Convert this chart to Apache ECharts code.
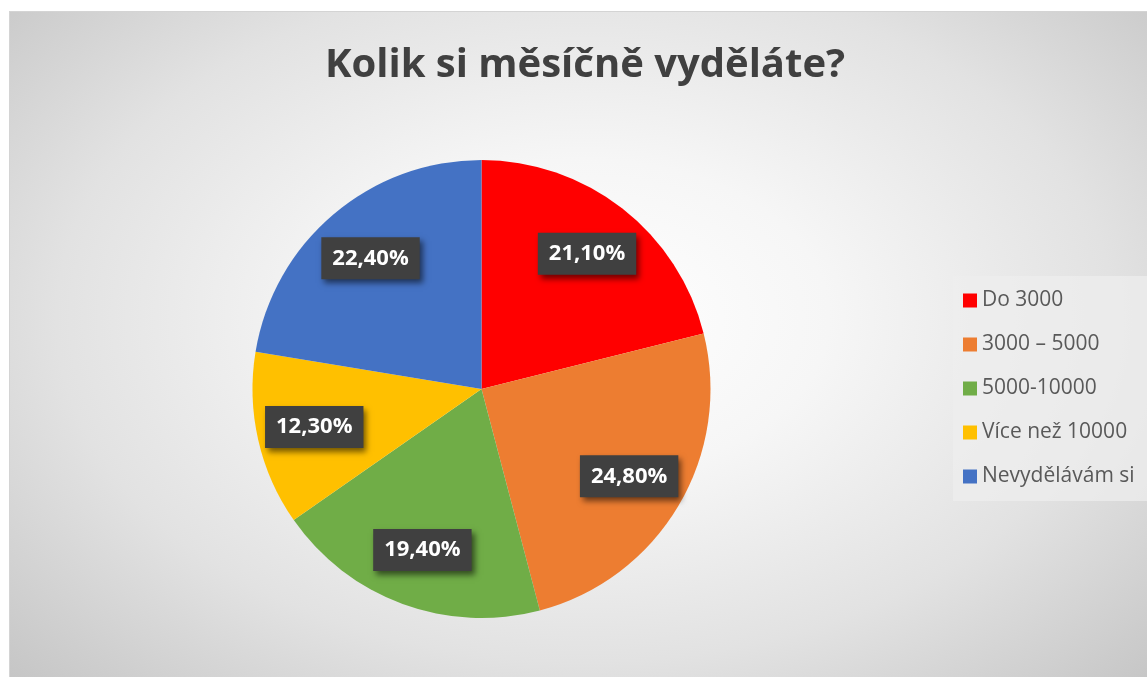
<!DOCTYPE html>
<html>
<head>
<meta charset="utf-8">
<script src="https://cdn.jsdelivr.net/npm/echarts@6/dist/echarts.min.js"></script>
<style>
    html, body { margin: 0; padding: 0; background: #fff; overflow: hidden; }
    #chart {
        position: absolute; left: 9px; top: 11px; width: 1150px; height: 680px;
        border-top: 1px solid #d4d4d4; border-left: 1px solid #d4d4d4;
        background: radial-gradient(ellipse farthest-corner at 50% 45%, #ffffff 0%, #f6f6f6 30%, #e2e2e2 65%, #c4c4c4 100%);
    }
</style>
</head>
<body>
<div id="chart"></div>
<script>
// data
var categories = ['Do 3000', '3000 – 5000', '5000-10000', 'Více než 10000', 'Nevydělávám si'];
var values = [21.1, 24.8, 19.4, 12.3, 22.4];
var colors = ['#FF0000', '#ED7D31', '#70AD47', '#FFC000', '#4472C4'];

var pieData = categories.map(function (name, i) {
    return { name: name, value: values[i], itemStyle: { color: colors[i] } };
});

var center = [471.5, 377];
var myChart = echarts.init(document.getElementById('chart'));
var option = {
    animation: false,
    title: {
        text: 'Kolik si měsíčně vyděláte?',
        left: 570, top: 29, textAlign: 'center',
        textStyle: { fontFamily: 'Open Sans', fontWeight: 'bold', fontSize: 40, color: '#404040' }
    },
    legend: {
        orient: 'vertical',
        left: 943, top: 264,
        padding: [14, 30, 14, 10],
        backgroundColor: 'rgba(238,238,238,0.75)',
        itemWidth: 14, itemHeight: 14, itemGap: 23,
        icon: 'rect',
        data: categories,
        textStyle: { fontFamily: 'Open Sans', fontSize: 21, color: '#595959' }
    },
    series: [{
        type: 'pie',
        center: center,
        radius: [0, 229],
        startAngle: 90,
        clockwise: true,
        label: { show: false },
        labelLine: { show: false },
        emphasis: { disabled: true },
        data: pieData
    }, {
        // průhledná vrstva jen kvůli umístění popisků
        type: 'pie',
        center: center,
        radius: [108, 229],
        startAngle: 90,
        clockwise: true,
        silent: true,
        itemStyle: { color: 'rgba(0,0,0,0)' },
        label: {
            show: true,
            position: 'inside',
            formatter: function (p) { return p.value.toFixed(2).replace('.', ',') + '%'; },
            fontFamily: 'Open Sans', fontWeight: 'bold', fontSize: 22, lineHeight: 28, color: '#fff',
            backgroundColor: '#404040',
            padding: [8, 11, 6, 11],
            shadowColor: 'rgba(0,0,0,0.55)', shadowBlur: 6, shadowOffsetX: 3, shadowOffsetY: 4
        },
        labelLine: { show: false },
        data: pieData.map(function (d) { return { name: d.name, value: d.value, itemStyle: { color: 'rgba(0,0,0,0)' } }; })
    }]
};
myChart.setOption(option);
</script>
</body>
</html>
